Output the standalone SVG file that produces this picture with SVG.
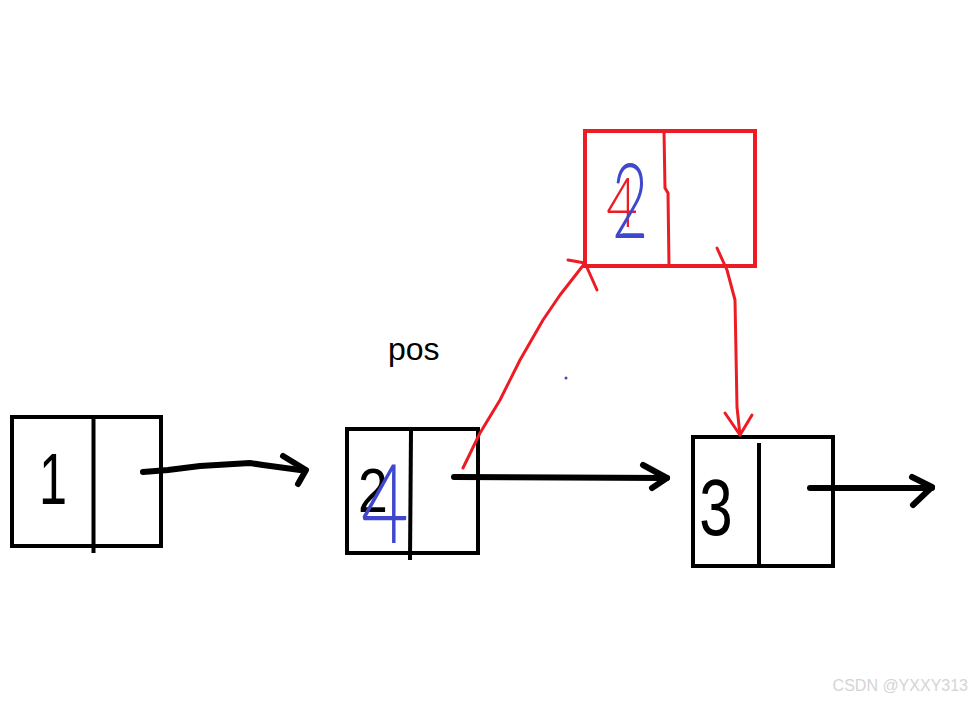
<svg xmlns="http://www.w3.org/2000/svg" width="972" height="702" viewBox="0 0 972 702">
<style>
.box{fill:none;stroke:#000;stroke-width:4}
.div{fill:none;stroke:#000;stroke-width:4}
.rbox{fill:none;stroke:#ed1c24;stroke-width:4}
.rdiv{fill:none;stroke:#ed1c24;stroke-width:3}
.blk{fill:none;stroke:#000;stroke-width:6;stroke-linecap:round;stroke-linejoin:round}
.red{fill:none;stroke:#ed1c24;stroke-width:3;stroke-linecap:round;stroke-linejoin:round}
.dig{font-family:"Liberation Sans",Arial,sans-serif;text-anchor:middle}
.thin{font-family:Lato,"Liberation Sans",Arial,sans-serif;font-weight:300;text-anchor:middle}
</style>
<rect width="972" height="702" fill="#fff"/>
<g id="node-1">
<rect class="box" x="12" y="417" width="149" height="129"/>
<line class="div" x1="93.5" y1="417" x2="93.5" y2="553"/>
<text class="dig" transform="translate(53,504) scale(0.7,1)" font-size="72" fill="#000">1</text>
</g>
<g id="node-2">
<rect class="box" x="347" y="429" width="131" height="124"/>
<line class="div" x1="411" y1="431" x2="410" y2="560"/>
<text class="dig" transform="translate(373,512) scale(0.85,1)" font-size="63" fill="#000">2</text>
<text class="thin" transform="translate(385,543) scale(0.75,1)" font-size="110" fill="#3f48cc">4</text>
</g>
<g id="node-3">
<rect class="box" x="693" y="437" width="140" height="129"/>
<line class="div" x1="759" y1="443" x2="759" y2="566"/>
<text class="dig" transform="translate(716,535) scale(0.75,1)" font-size="80" fill="#000">3</text>
</g>
<g id="node-new">
<rect class="rbox" x="585" y="131" width="170" height="135"/>
<polyline class="rdiv" points="664,131 665,188 668,193 669,266"/>
<text class="thin" transform="translate(622,227) scale(0.8,1)" font-size="68" fill="#ed1c24">4</text>
<text class="thin" transform="translate(630,238) scale(0.6,1)" font-size="104" fill="#3f48cc">2</text>
</g>
<text x="388" y="360" font-family="Liberation Sans,Arial,sans-serif" font-size="32" fill="#000">pos</text>
<circle cx="566" cy="378" r="1.5" fill="#3f48cc"/>
<g id="connectors">
<polyline class="blk" points="143,472 168,470 200,466 250,463 263,465 300,470"/>
<polyline class="blk" points="283,456 306,470 298,484"/>
<polyline class="blk" points="454,477 667,478"/>
<polyline class="blk" points="643,465 667,478 652,488"/>
<polyline class="blk" points="810,488 932,488"/>
<polyline class="blk" points="912,477 932,487 913,505"/>
<polyline class="red" points="463,468 480,433 500,400 520,360 543,320 560,295 585,263"/>
<polyline class="red" points="568,260 585,263 597,290"/>
<polyline class="red" points="717,248 727,270 735,300 737,407 740,435"/>
<polyline class="red" points="725,413 740,435 752,415"/>
</g>
<text x="968" y="691" text-anchor="end" font-family="Liberation Sans,Arial,sans-serif" font-size="16" fill="#d4d4d4">CSDN @YXXY313</text>
</svg>
